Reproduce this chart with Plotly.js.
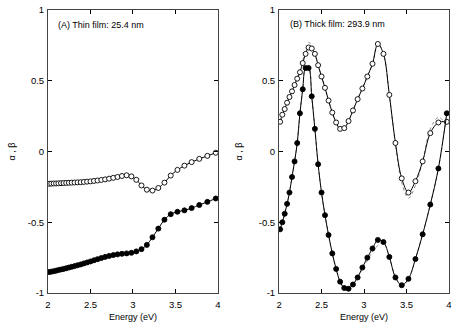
<!DOCTYPE html>
<html>
<head>
<meta charset="utf-8">
<script src="https://cdn.plot.ly/plotly-3.0.1.min.js"></script>
<style>html,body{margin:0;padding:0;background:#fff;}#chart{width:452px;height:325px;}</style>
</head>
<body>
<div id="chart"></div>
<script>
// Photon energy grid (eV)
const energy = [2.013,2.039,2.067,2.095,2.123,2.153,2.183,2.214,2.246,2.279,2.313,2.348,2.385,2.422,2.460,2.500,2.541,2.583,2.627,2.672,2.719,2.768,2.818,2.870,2.925,2.981,3.039,3.100,3.163,3.229,3.298,3.370,3.444,3.523,3.605,3.690,3.780,3.875,3.974];

// (A) Thin film 25.4 nm
const thinOpen = [-0.228,-0.227,-0.226,-0.226,-0.225,-0.224,-0.223,-0.222,-0.221,-0.220,-0.219,-0.218,-0.217,-0.215,-0.213,-0.211,-0.208,-0.205,-0.201,-0.197,-0.192,-0.186,-0.180,-0.173,-0.168,-0.176,-0.200,-0.240,-0.270,-0.276,-0.258,-0.220,-0.170,-0.130,-0.100,-0.075,-0.052,-0.031,-0.009];
const thinFilled = [-0.852,-0.849,-0.846,-0.842,-0.838,-0.834,-0.830,-0.825,-0.820,-0.815,-0.810,-0.804,-0.798,-0.791,-0.784,-0.777,-0.769,-0.761,-0.753,-0.745,-0.738,-0.732,-0.727,-0.723,-0.720,-0.716,-0.706,-0.690,-0.660,-0.606,-0.545,-0.482,-0.443,-0.426,-0.416,-0.400,-0.378,-0.356,-0.332];

// (B) Thick film 293.9 nm
const thickOpen = [0.21,0.26,0.30,0.345,0.385,0.425,0.47,0.515,0.56,0.625,0.69,0.735,0.728,0.69,0.61,0.53,0.45,0.36,0.275,0.205,0.16,0.165,0.215,0.29,0.37,0.445,0.53,0.62,0.76,0.69,0.40,0.06,-0.19,-0.29,-0.21,-0.07,0.13,0.205,0.21];
const thickFilled = [-0.55,-0.50,-0.44,-0.37,-0.29,-0.18,-0.07,0.06,0.27,0.44,0.59,0.59,0.39,0.16,-0.09,-0.29,-0.45,-0.59,-0.72,-0.83,-0.92,-0.965,-0.97,-0.94,-0.89,-0.82,-0.75,-0.685,-0.625,-0.64,-0.745,-0.89,-0.945,-0.90,-0.76,-0.585,-0.375,-0.12,0.27];
// second (grey dotted) model curves for thick film
const thickOpenFit2 = [0.21,0.26,0.30,0.345,0.385,0.425,0.47,0.515,0.57,0.64,0.715,0.77,0.755,0.70,0.61,0.53,0.45,0.36,0.275,0.205,0.16,0.165,0.215,0.29,0.37,0.445,0.53,0.62,0.76,0.69,0.40,0.05,-0.22,-0.33,-0.24,-0.07,0.16,0.24,0.19];
const thickFilledFit2 = [-0.55,-0.50,-0.44,-0.37,-0.29,-0.18,-0.07,0.06,0.27,0.44,0.60,0.61,0.39,0.16,-0.09,-0.29,-0.45,-0.59,-0.72,-0.83,-0.92,-0.965,-0.97,-0.94,-0.89,-0.83,-0.77,-0.71,-0.665,-0.645,-0.745,-0.89,-0.945,-0.90,-0.76,-0.585,-0.375,-0.12,0.27];

const xTicks = [2,2.5,3,3.5,4];
const yTicks = [-1,-0.5,0,0.5,1];
const panelLabels = ["(A) Thin film: 25.4 nm","(B) Thick film: 293.9 nm"];

const FONT = "Liberation Sans, Arial, sans-serif";

function fit(x, y, xa, ya){
  return {x:x, y:y, xaxis:xa, yaxis:ya, mode:'lines', type:'scatter',
    line:{color:'#8a8a8a', width:1, dash:'dot', shape:'spline'}, hoverinfo:'skip'};
}
function series(x, y, xa, ya, filled){
  return {x:x, y:y, xaxis:xa, yaxis:ya, mode:'lines+markers', type:'scatter',
    line:{color:'#000', width:1, shape:'spline'},
    marker:{symbol:'circle', size:5, color: filled ? '#000' : '#fff', line:{color:'#000', width:0.9}}};
}

const data = [
  series(energy, thinOpen, 'x', 'y', false),
  series(energy, thinFilled, 'x', 'y', true),
  fit(energy, thickOpenFit2, 'x2', 'y2'),
  fit(energy, thickFilledFit2, 'x2', 'y2'),
  series(energy, thickOpen, 'x2', 'y2', false),
  series(energy, thickFilled, 'x2', 'y2', true)
];

function xax(domain, anchor){
  return {domain:domain, anchor:anchor, range:[2,4], tickvals:xTicks, ticktext:xTicks.map(String),
    ticks:'inside', ticklen:4, tickcolor:'#000', showline:true, linecolor:'#444', linewidth:1, mirror:'ticks',
    ticklabelstandoff:3,
    showgrid:false, zeroline:false, tickfont:{size:9.5, family:FONT, color:'#000'},
    title:{text:'Energy (eV)', font:{size:9, family:FONT, color:'#000'}, standoff:4}};
}
function yax(anchor, st){
  return {domain:[0,1], anchor:anchor, range:[-1,1], tickvals:yTicks, ticktext:yTicks.map(String),
    ticks:'inside', ticklen:4, tickcolor:'#000', showline:true, linecolor:'#444', linewidth:1, mirror:'ticks',
    ticklabelstandoff:1,
    showgrid:false, zeroline:false, tickfont:{size:9.5, family:FONT, color:'#000'},
    title:{text:'α , β', font:{size:9, family:FONT, color:'#000'}, standoff:st}};
}

const layout = {
  width:452, height:325,
  margin:{l:48, r:3, t:10, b:32},
  paper_bgcolor:'#fff', plot_bgcolor:'#fff',
  showlegend:false,
  font:{family:FONT, size:9, color:'#000'},
  xaxis: xax([0, 0.4239], 'y'),
  yaxis: yax('x', 10),
  xaxis2: xax([0.5761, 1], 'y2'),
  yaxis2: yax('x2', 14),
  annotations:[
    {text:panelLabels[0], xref:'x domain', yref:'y domain', x:0.045, y:0.948, xanchor:'left', yanchor:'middle', showarrow:false, font:{size:9, family:FONT, color:'#000'}},
    {text:panelLabels[1], xref:'x2 domain', yref:'y2 domain', x:0.05, y:0.952, xanchor:'left', yanchor:'middle', showarrow:false, font:{size:9, family:FONT, color:'#000'}}
  ]
};

Plotly.newPlot('chart', data, layout, {staticPlot:true, displayModeBar:false});
</script>
</body>
</html>
